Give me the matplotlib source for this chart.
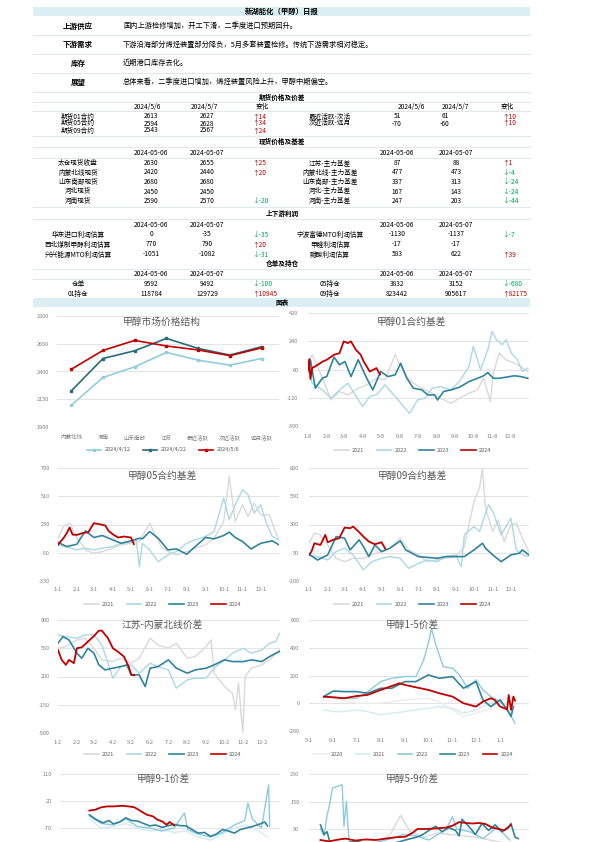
import matplotlib
matplotlib.use("Agg")
import matplotlib.pyplot as plt
import pandas as pd
from matplotlib.lines import Line2D

plt.rcParams['font.family'] = ['Noto Sans CJK SC', 'DejaVu Sans']
plt.rcParams['axes.unicode_minus'] = False

# ---------------------------------------------------------------
# 表格数据
# ---------------------------------------------------------------
report_title = "新湖能化（甲醇）日报"
view_labels = ["上游供应", "下游需求", "库存", "展望"]
view_texts = ["国内上游检修增加，开工下滑，二季度进口预期回升。",
              "下游沿海部分烯烃装置部分降负，5月多套装置检修。传统下游需求相对稳定。",
              "近期港口库存去化。",
              "总体来看，二季度进口增加，烯烃装置风险上升，甲醇中期偏空。"]

fut_names = ["期货01合约", "期货05合约", "期货09合约"]
fut_0506 = [2613, 2594, 2543]
fut_0507 = [2627, 2628, 2567]
spr_names = ["最近活跃-次活", "次近活跃-远月"]
spr_0506 = [51, -70]
spr_0507 = [61, -60]

spot_names = ["太仓现货收盘", "内蒙北线现货", "山东南部现货", "河北现货", "河南现货"]
spot_0506 = [2630, 2420, 2680, 2450, 2590]
spot_0507 = [2655, 2440, 2680, 2450, 2570]
basis_names = ["江苏-主力基差", "内蒙北线-主力基差", "山东南部-主力基差", "河北-主力基差", "河南-主力基差"]
basis_0506 = [87, 477, 337, 167, 247]
basis_0507 = [88, 473, 313, 143, 203]

prof_l_names = ["华东进口利润估算", "西北煤制甲醇利润估算", "兴兴能源MTO利润估算"]
prof_l_0506 = [0, 770, -1051]
prof_l_0507 = [-35, 790, -1082]
prof_r_names = ["宁波富德MTO利润估算", "甲醛利润估算", "醋酸利润估算"]
prof_r_0506 = [-1130, -17, 583]
prof_r_0507 = [-1137, -17, 622]

wr_l_names = ["仓单", "01持仓"]
wr_l_0506 = [9592, 118784]
wr_l_0507 = [9492, 129729]
wr_r_names = ["05持仓", "09持仓"]
wr_r_0506 = [3832, 823442]
wr_r_0507 = [3152, 905617]

# ---------------------------------------------------------------
# 图表数据
# ---------------------------------------------------------------
struct_cats = ["内蒙北线", "河南", "山东南部", "江苏", "最近活跃", "次近活跃", "远月活跃"]
struct_0412 = [2096, 2346, 2442, 2572, 2502, 2457, 2517]
struct_0422 = [2225, 2517, 2587, 2698, 2608, 2548, 2623]
struct_0506 = [2420, 2590, 2680, 2630, 2594, 2543, 2613]

# 01合约基差
b01_2021_d = ["01-08", "01-15", "02-01", "02-15", "03-01", "03-15", "04-01", "04-15", "05-01", "05-15",
              "06-01", "06-10", "06-20", "07-01", "07-15", "08-01", "08-15", "09-01", "09-15", "10-01",
              "10-15", "10-25", "11-05", "11-10", "11-20", "12-01", "12-15", "12-25", "01-06"]
b01_2021_v = [100, 154, 6, -134, -80, -102, -59, -38, 4, -5, 154, 79, 15, -27, -59, -91, -123, -155, -123, -91,
              -70, 6, -144, 37, 164, 122, 100, 79, 47]
b01_2022_d = ["01-08", "01-15", "02-01", "02-15", "03-01", "03-15", "03-25", "04-08", "04-20", "05-01",
              "05-15", "06-01", "06-15", "06-25", "07-08", "07-20", "08-01", "08-15", "09-01", "09-15",
              "10-01", "10-08", "10-20", "11-01", "11-08", "11-15", "11-25", "12-01", "12-10", "12-20",
              "12-28", "01-06"]
b01_2022_v = [60, -27, -70, -123, -70, -27, -91, -176, -112, -102, -38, -112, -176, -219, -134, -123, -59, -49,
              -70, -17, 79, 207, 58, 186, 303, 250, 218, 250, 164, 122, 47, 68]
b01_2023_d = ["01-08", "01-12", "01-20", "02-01", "02-08", "02-20", "03-01", "03-10", "03-20", "04-01",
              "04-15", "04-25", "05-08", "05-20", "06-01", "06-10", "06-20", "07-01", "07-15", "07-25",
              "08-05", "08-10", "08-20", "09-01", "09-15", "10-01", "10-15", "10-25", "11-01", "11-10",
              "11-20", "12-01", "12-15", "12-25", "01-06"]
b01_2023_v = [47, 122, -59, 6, 15, 139, 90, 111, 15, 122, 4, -70, 47, 15, 26, 100, 6, -59, -70, -102,
              -102, -134, -80, -70, -53, -17, 4, 20, 41, 4, 4, 11, 20, 15, 4]
b01_2024_d = ["01-08", "01-10", "01-12", "01-15", "01-20", "02-01", "02-08", "02-20", "03-01", "03-08",
              "03-15", "03-20", "03-28", "04-05", "04-10", "04-20", "05-01", "05-07"]
b01_2024_v = [60, 126, -1, 70, 80, 110, 122, 154, 164, 239, 228, 239, 186, 154, 111, 47, 69, 28]

# 05合约基差
b05_2021_d = ["01-01", "01-10", "01-20", "02-01", "02-10", "02-15", "03-01", "03-15", "04-01", "04-15",
              "05-01", "05-15", "06-01", "06-10", "06-20", "07-01", "07-15", "08-01", "08-15", "09-01",
              "09-15", "10-01", "10-10", "10-20", "11-01", "11-10", "11-20", "12-01", "12-15", "12-25", "12-31"]
b05_2021_v = [94, 210, 243, 94, 28, -22, -55, -38, -5, 28, 44, 68, 243, 127, 11, -38, -72, -38, -5, 28,
              94, 260, 707, 260, 426, 310, 442, 326, 326, 160, 78]
b05_2022_d = ["01-01", "01-15", "02-01", "02-15", "03-01", "03-15", "04-01", "04-15", "05-01", "05-10",
              "05-15", "05-20", "06-01", "06-15", "07-01", "07-15", "08-01", "08-15", "09-01", "09-15",
              "10-01", "10-10", "10-20", "11-01", "11-10", "11-20", "12-01", "12-10", "12-20", "12-31"]
b05_2022_v = [28, 11, -22, -5, -22, -5, 11, 44, 54, 78, -188, 44, -22, -138, -72, -38, 44, 78, 111, 160,
              492, 276, 426, 575, 525, 343, 426, 243, 111, 78]
b05_2023_d = ["01-01", "01-15", "02-01", "02-15", "02-20", "03-01", "03-15", "04-01", "04-15", "05-01",
              "05-15", "05-20", "06-01", "06-15", "07-01", "07-15", "08-01", "08-15", "09-01", "09-15",
              "10-01", "10-10", "10-20", "11-01", "11-15", "12-01", "12-20", "12-31"]
b05_2023_v = [54, 11, 34, 167, 144, 101, 121, 78, 44, 68, 94, 88, 160, 94, -22, -12, -65, 11, 101, 88,
              121, 154, 101, 61, -12, 44, 68, 28]
b05_2024_d = ["01-01", "01-05", "01-10", "01-15", "01-20", "01-25", "02-01", "02-10", "02-20", "03-01",
              "03-10", "03-20", "03-25", "04-01", "04-10", "04-20", "05-01", "05-06"]
b05_2024_v = [28, 60, 94, 140, 200, 130, 127, 144, 154, 243, 233, 220, 168, 134, 101, 111, 101, 36]

# 09合约基差
b09_2021_d = ["01-01", "01-10", "01-20", "02-01", "02-15", "03-01", "03-15", "04-01", "04-15", "05-01",
              "05-15", "06-01", "06-15", "07-01", "07-15", "08-01", "08-15", "09-01", "09-15", "10-01",
              "10-10", "10-15", "10-20", "11-01", "11-10", "11-20", "12-01", "12-10", "12-20", "12-31"]
b09_2021_v = [134, 223, 208, 119, 1, -29, 1, 1, 31, 60, 90, 179, 75, 31, -29, -14, 1, 16, 105, 504,
              622, 800, 445, 238, 341, 149, 297, 312, 179, 60]
b09_2022_d = ["01-01", "01-15", "02-01", "02-15", "03-01", "03-15", "04-01", "04-15", "05-01", "05-15",
              "06-01", "06-15", "07-01", "07-15", "08-01", "08-15", "09-01", "09-10", "09-15", "10-01",
              "10-10", "10-25", "11-01", "11-15", "12-01", "12-10", "12-20", "12-31"]
b09_2022_v = [31, 16, -14, 60, 90, 31, -102, -29, 1, 16, 1, -88, -44, -14, -29, 16, 31, -73, 208, 282,
              238, 475, 415, 208, 356, 75, 31, 16]
b09_2023_d = ["01-01", "01-15", "02-01", "02-15", "03-01", "03-10", "03-25", "04-01", "04-10", "04-20",
              "05-01", "05-15", "06-01", "06-10", "07-01", "08-01", "08-15", "09-01", "09-15", "10-01",
              "10-15", "10-20", "11-01", "11-15", "12-01", "12-15", "12-20", "12-31"]
b09_2023_v = [37, -14, 31, 193, 179, 75, 164, 105, 16, 119, 60, 90, 155, 75, 16, 1, 16, 16, 16, 75,
              134, 90, 31, -29, 31, 46, 75, 31]
b09_2024_d = ["01-01", "01-05", "01-10", "01-20", "01-28", "02-01", "02-10", "02-20", "03-01", "03-10",
              "03-15", "03-25", "04-01", "04-10", "04-20", "05-01", "05-07"]
b09_2024_v = [31, 60, 134, 119, 208, 143, 164, 179, 273, 267, 282, 232, 193, 149, 125, 143, 88]

# 江苏-内蒙北线价差
js_2021_d = ["01-02", "01-15", "02-02", "02-15", "03-02", "03-15", "04-02", "04-15", "05-02", "05-15",
             "06-02", "06-15", "07-02", "07-15", "08-02", "08-15", "09-02", "09-10", "09-15", "10-02",
             "10-15", "10-20", "10-25", "11-01", "11-05", "11-15", "12-02", "12-15", "12-31"]
js_2021_v = [550, 571, 653, 674, 550, 406, 385, 426, 365, 426, 674, 591, 550, 612, 426, 447, 571, 653, 241, 76,
             -6, -212, 118, -500, 200, 303, 344, 406, 529]
js_2022_d = ["01-02", "01-15", "02-02", "02-15", "03-02", "03-15", "04-02", "04-15", "05-02", "05-15",
             "06-02", "06-15", "07-02", "07-15", "08-02", "08-15", "09-02", "09-15", "10-02", "10-15",
             "11-02", "11-15", "12-02", "12-15", "12-25", "12-31"]
js_2022_v = [715, 694, 674, 715, 715, 591, 179, 323, 344, 241, 365, 323, 282, 56, 159, 179, 179, 303, 406, 488,
             550, 488, 529, 612, 632, 735]
js_2023_d = ["01-02", "01-10", "01-20", "02-02", "02-10", "02-20", "03-02", "03-10", "03-20", "04-02",
             "04-15", "04-25", "05-02", "05-15", "05-25", "06-02", "06-15", "07-02", "07-15", "08-02",
             "08-15", "09-02", "09-15", "10-02", "10-15", "11-02", "11-15", "12-02", "12-15", "12-25", "12-31"]
js_2023_v = [612, 694, 653, 488, 426, 550, 488, 344, 282, 303, 323, 344, 221, 221, 76, 303, 323, 406, 303, 241,
             282, 303, 344, 406, 385, 385, 406, 385, 447, 488, 509]
js_2024_d = ["01-02", "01-08", "01-15", "01-20", "01-28", "02-02", "02-10", "02-20", "03-01", "03-10",
             "03-15", "03-25", "04-02", "04-10", "04-20", "04-28", "05-02", "05-07"]
js_2024_v = [529, 406, 344, 406, 365, 550, 562, 632, 694, 768, 768, 674, 550, 509, 447, 323, 221, 215]

# 1-5价差
s15_2020_d = ["05-20", "06-01", "07-01", "08-01", "09-01", "10-01", "10-15", "11-01", "11-15", "12-01",
              "12-15", "01-01", "01-10"]
s15_2020_v = [96, 36, 0, 0, 24, 36, 12, -48, -96, -72, -48, 12, 0]
s15_2021_d = ["05-20", "06-01", "06-15", "07-01", "07-15", "08-01", "08-15", "09-01", "09-15", "10-01",
              "10-15", "11-01", "11-15", "12-01", "12-15", "01-01", "01-10", "01-20"]
s15_2021_v = [-48, -60, -60, -48, -60, -84, -72, -60, -48, -36, -24, -36, -72, -48, -12, 24, 36, 48]
s15_2022_d = ["05-20", "06-01", "06-15", "07-01", "07-15", "08-01", "08-15", "09-01", "09-15", "09-25",
              "10-01", "10-05", "10-10", "10-20", "11-01", "11-10", "11-20", "12-01", "12-10", "12-20",
              "01-01", "01-10", "01-20"]
s15_2022_v = [43, 43, 36, 36, 84, 156, 180, 192, 192, 312, 432, 540, 432, 264, 252, 204, 108, 168, 96, 48,
              12, -36, -144]
s15_2023_d = ["05-20", "06-01", "06-15", "07-01", "07-15", "08-01", "08-15", "09-01", "09-15", "10-01",
              "10-15", "11-01", "11-15", "12-01", "12-10", "12-20", "01-01", "01-10", "01-15", "01-18"]
s15_2023_v = [48, 88, 84, 84, 72, 108, 108, 156, 156, 204, 180, 192, 108, 156, 24, -24, 24, -48, -96, -24]
s15_2024_d = ["05-20", "06-01", "06-15", "07-01", "07-15", "08-01", "08-15", "08-25", "09-01", "09-15",
              "10-01", "10-15", "11-01", "11-15", "12-01", "12-10", "12-20", "12-25", "01-01", "01-10",
              "01-12", "01-15", "01-18", "01-20"]
s15_2024_v = [48, 43, 36, 52, 60, 96, 124, 144, 132, 115, 96, 72, 48, 0, -24, 12, 36, 24, -24, -44,
              60, -48, 48, 19]

# 9-1价差
s91_2021_d = ["01-15", "02-06", "02-28", "03-23", "04-14", "05-06", "05-29", "06-20", "07-12", "08-03",
              "08-26", "09-17", "10-09", "10-31", "11-23", "12-09"]
s91_2021_v = [-40, -70, -65, -55, -70, -80, -75, -85, -80, -100, -110, -90, -70, -60, -80, -100]
s91_2022_d = ["01-15", "02-06", "02-28", "03-23", "04-14", "05-06", "05-29", "06-20", "07-09", "07-15",
              "08-03", "08-26", "09-17", "10-09", "10-28", "11-03", "11-11", "11-28", "12-11", "12-13"]
s91_2022_v = [-30, -55, -60, -40, -65, -70, -80, -70, -20, -75, -90, -100, -85, -60, -45, 13, -40, -70, 74, -65]
s91_2023_d = ["01-15", "01-26", "02-09", "02-20", "02-28", "03-12", "03-23", "04-03", "04-14", "04-25",
              "05-06", "05-17", "05-29", "06-09", "06-20", "07-01", "07-12", "07-23", "08-03", "08-15",
              "08-26", "09-06", "09-17", "09-28", "10-09", "10-20", "10-31", "11-11", "11-23", "12-04", "12-09"]
s91_2023_v = [-26, -40, -53, -45, -56, -50, -36, -45, -47, -55, -63, -60, -68, -62, -58, -62, -63, -75, -87, -85,
              -98, -90, -75, -80, -87, -75, -70, -65, -58, -50, -63]
s91_2024_d = ["01-15", "01-26", "02-06", "02-17", "02-28", "03-17", "03-28", "04-08", "04-20", "05-01",
              "05-12", "05-20", "05-29", "06-06", "06-12", "06-20"]
s91_2024_v = [-12, -9, -1, 2, 2, 4, 2, -1, -14, -26, -31, -42, -48, -59, -50, -61]

# 5-9价差
s59_2021_d = ["04-24", "05-16", "06-02", "06-07", "06-18", "07-10", "08-01", "08-23", "09-14", "10-06",
              "10-28", "11-19"]
s59_2021_v = [0, 30, 100, 80, 40, 20, 35, 30, 25, 20, 10, 0]
s59_2022_d = ["01-20", "01-26", "01-31", "02-03", "02-09", "02-17", "02-25", "02-28", "03-04", "03-08",
              "03-14", "04-22", "05-25", "06-05", "06-27", "07-19", "08-10", "08-18", "08-27", "09-03",
              "09-25", "10-17", "11-08", "11-19", "11-30"]
s59_2022_v = [50, 25, 100, 126, 199, 205, 211, 60, 150, 20, -20, 0, 20, 30, 25, 10, 40, 55, 95, 50,
              40, 15, 55, 35, 10]
s59_2023_d = ["01-20", "01-26", "01-31", "02-06", "02-20", "03-19", "04-22", "05-25", "06-10", "06-28",
              "07-09", "07-19", "07-30", "08-10", "08-21", "09-01", "09-07", "09-12", "09-23", "10-04",
              "10-15", "10-26", "11-06", "11-17", "11-28", "12-02", "12-09", "12-14"]
s59_2023_v = [65, 30, 40, -10, -5, 5, -10, 0, 10, 20, 30, 45, 60, 40, 55, 45, 25, 85, 60, 30,
              70, 45, 65, 40, 55, 70, 20, 15]
s59_2024_d = ["01-20", "02-03", "02-20", "03-03", "03-19", "04-05", "04-22", "05-08", "05-25", "06-10",
              "06-21", "06-30", "07-14", "07-30", "08-16", "08-27", "09-07", "09-18", "09-29", "10-10",
              "10-21", "11-01", "11-12", "11-21", "12-02"]
s59_2024_v = [10, 5, 12, 15, 8, 12, 10, 15, 20, 22, 35, 50, 50, 52, 55, 62, 75, 72, 70, 72,
              68, 55, 50, 45, 65]

year_labels = ["2021", "2022", "2023", "2024"]
year_labels_15 = ["2020", "2021", "2022", "2023", "2024"]

# ---------------------------------------------------------------
# 画布
# ---------------------------------------------------------------
W, H = 595, 842
fig = plt.figure(figsize=(5.95, 8.42), dpi=100)

C21, C22, C23, C24 = '#d9d9d9', '#acd8e6', '#31849b', '#c00000'
RED, GREEN = '#c00000', '#00a65a'
FS = 4.8   # 表格字号


def fx(x):
    return x / W


def fy(y):
    return 1 - y / H


def txt(x, y, s, ha='center', size=FS, color='black', weight='normal'):
    fig.text(fx(x), fy(y), s, ha=ha, va='center', fontsize=size, color=color, fontweight=weight)


def hline(y, color='#d6e6ec', lw=0.6):
    fig.add_artist(Line2D([fx(33), fx(530)], [fy(y), fy(y)], color=color, lw=lw))


def band(y0, y1):
    fig.add_artist(plt.Rectangle((fx(33), fy(y1)), fx(530) - fx(33), fy(y0) - fy(y1),
                                 facecolor='#daeef3', edgecolor='none'))


def chg(x, y, a, b):
    d = b - a
    if d > 0:
        txt(x, y, "↑" + str(d), ha='left', color=RED)
    elif d < 0:
        txt(x, y, "↓" + str(d), ha='left', color=GREEN)


def days(md, start="01-01"):
    base = pd.Timestamp("2021-" + start)
    out = []
    for s in md:
        t = pd.Timestamp("2021-" + s)
        if t < base:
            t = pd.Timestamp("2022-" + s)
        out.append((t - base).days)
    return out


# ---------------------------------------------------------------
# 表格部分
# ---------------------------------------------------------------
band(7, 16)
txt(282, 11.5, report_title, weight='bold', size=5.3)
rows_y = [26, 44.5, 63, 82]
for lab, t, y in zip(view_labels, view_texts, rows_y):
    txt(78, y, lab, weight='bold', size=5.4)
    txt(123, y, t, ha='left', size=5.2)
for y in [35, 54, 72.5, 91.5]:
    hline(y)

# 期货价格及价差
txt(282, 97, "期货价格及价差", weight='bold')
hline(101.5)
txt(147, 107, "2024/5/6")
txt(205, 107, "2024/5/7")
txt(262, 107, "变化")
txt(411, 107, "2024/5/6")
txt(456, 107, "2024/5/7")
txt(507, 107, "变化")
hline(111)
fy_rows = [116.5, 123.5, 130.5]
for i, y in enumerate(fy_rows):
    txt(78, y, fut_names[i])
    txt(151, y, str(fut_0506[i]))
    txt(207, y, str(fut_0507[i]))
    chg(252, y, fut_0506[i], fut_0507[i])
for i in range(len(spr_names)):
    y = fy_rows[i]
    txt(330, y, spr_names[i])
    txt(397, y, str(spr_0506[i]))
    txt(445, y, str(spr_0507[i]))
    chg(502, y, spr_0506[i], spr_0507[i])

# 现货价格及基差
hline(136)
txt(282, 141.5, "现货价格及基差", weight='bold')
hline(147)
txt(151, 153, "2024-05-06")
txt(207, 153, "2024-05-07")
txt(397, 153, "2024-05-06")
txt(456, 153, "2024-05-07")
hline(157.5)
sp_rows = [163, 172.5, 182, 191.5, 201]
for i, y in enumerate(sp_rows):
    txt(78, y, spot_names[i])
    txt(151, y, str(spot_0506[i]))
    txt(207, y, str(spot_0507[i]))
    chg(252, y, spot_0506[i], spot_0507[i])
    txt(330, y, basis_names[i])
    txt(397, y, str(basis_0506[i]))
    txt(456, y, str(basis_0507[i]))
    chg(502, y, basis_0506[i], basis_0507[i])

# 上下游利润
hline(206.5)
txt(282, 213, "上下游利润", weight='bold')
hline(218.5)
txt(151, 225, "2024-05-06")
txt(207, 225, "2024-05-07")
txt(397, 225, "2024-05-06")
txt(456, 225, "2024-05-07")
pr_rows = [234.5, 244.5, 254.5]
for i, y in enumerate(pr_rows):
    txt(78, y, prof_l_names[i])
    txt(151, y, str(prof_l_0506[i]))
    txt(207, y, str(prof_l_0507[i]))
    chg(252, y, prof_l_0506[i], prof_l_0507[i])
    txt(330, y, prof_r_names[i])
    txt(397, y, str(prof_r_0506[i]))
    txt(456, y, str(prof_r_0507[i]))
    chg(502, y, prof_r_0506[i], prof_r_0507[i])

# 仓单及持仓
txt(282, 263.5, "仓单及持仓", weight='bold')
hline(268.5)
txt(151, 274, "2024-05-06")
txt(207, 274, "2024-05-07")
txt(397, 274, "2024-05-06")
txt(456, 274, "2024-05-07")
hline(278.5)
wr_rows = [284, 294]
for i, y in enumerate(wr_rows):
    txt(78, y, wr_l_names[i])
    txt(151, y, str(wr_l_0506[i]))
    txt(207, y, str(wr_l_0507[i]))
    chg(252, y, wr_l_0506[i], wr_l_0507[i])
    txt(330, y, wr_r_names[i])
    txt(397, y, str(wr_r_0506[i]))
    txt(456, y, str(wr_r_0507[i]))
    chg(502, y, wr_r_0506[i], wr_r_0507[i])

band(297.5, 307)
txt(282, 302.3, "图表", weight='bold')


# ---------------------------------------------------------------
# 图表部分
# ---------------------------------------------------------------
def make_ax(x0, x1, ytop, ybot, ylim, yticks, ypad=6):
    ax = fig.add_axes([fx(x0), fy(ybot), fx(x1) - fx(x0), fy(ytop) - fy(ybot)])
    for s in ax.spines.values():
        s.set_visible(False)
    ax.set_ylim(*ylim)
    ax.set_yticks(yticks)
    ax.grid(axis='y', color='#d9d9d9', lw=0.5)
    ax.set_axisbelow(True)
    ax.tick_params(axis='y', length=0, labelsize=4, colors='#7f7f7f', pad=ypad)
    ax.tick_params(axis='x', length=0, labelsize=4, colors='#7f7f7f')
    return ax


def chart_title(x, y, s):
    fig.text(fx(x), fy(y), s, ha='center', va='center', fontsize=7, color='#595959')


def legend(cx, y, colors, labels, lws):
    hs = [Line2D([], [], color=c, lw=w) for c, w in zip(colors, lws)]
    fig.legend(hs, labels, loc='center', bbox_to_anchor=(fx(cx), fy(y)), ncol=len(labels),
               frameon=False, fontsize=4, handlelength=2.6, columnspacing=2.2, handletextpad=0.6,
               labelcolor='#595959')


def month_ticks(ax, start, day, months):
    labels = [f"{m}-{day}" for m in months]
    ax.set_xticks(days([f"{m:02d}-{day:02d}" for m in months], start))
    ax.set_xticklabels(labels)


# 1 甲醇市场价格结构
ax = make_ax(57, 279, 316, 427, (1900, 2900), [1900, 2150, 2400, 2650, 2900])
xs = range(len(struct_cats))
ax.plot(xs, struct_0412, color='#92cddc', lw=1.2, marker='s', ms=2)
ax.plot(xs, struct_0422, color='#2b6a7c', lw=1.2, marker='s', ms=2)
ax.plot(xs, struct_0506, color=C24, lw=1.2, marker='s', ms=2)
ax.set_xlim(-0.45, 6.55)
ax.set_xticks(list(xs))
ax.set_xticklabels(struct_cats)
ax.tick_params(axis='x', pad=6)
chart_title(162, 322, "甲醇市场价格结构")
hs = [Line2D([], [], color=c, lw=1.2, marker='s', ms=2) for c in ['#92cddc', '#2b6a7c', C24]]
fig.legend(hs, ["2024/4/12", "2024/4/22", "2024/5/6"], loc='center', bbox_to_anchor=(fx(163), fy(450)),
           ncol=3, frameon=False, fontsize=4, handlelength=2.6, columnspacing=2.2, handletextpad=0.6,
           labelcolor='#595959')

# 2 甲醇01合约基差
ax = make_ax(308, 529, 313, 426, (-300, 420), [-300, -120, 60, 240, 420], ypad=7)
st = "01-08"
ax.plot(days(b01_2021_d, st), b01_2021_v, color=C21, lw=1.0)
ax.plot(days(b01_2022_d, st), b01_2022_v, color=C22, lw=1.0)
ax.plot(days(b01_2023_d, st), b01_2023_v, color=C23, lw=1.2)
ax.plot(days(b01_2024_d, st), b01_2024_v, color=C24, lw=1.3)
ax.set_xlim(0, 365)
month_ticks(ax, st, 8, range(1, 13))
ax.tick_params(axis='x', pad=6)
chart_title(412, 322, "甲醇01合约基差")
legend(413, 450, [C21, C22, C23, C24], year_labels, [1.2, 1.2, 1.2, 1.2])

# 3 甲醇05合约基差
ax = make_ax(58, 279, 468, 581, (-330, 790), [-330, -50, 230, 510, 790])
st = "01-01"
ax.plot(days(b05_2021_d, st), b05_2021_v, color=C21, lw=1.0)
ax.plot(days(b05_2022_d, st), b05_2022_v, color=C22, lw=1.0)
ax.plot(days(b05_2023_d, st), b05_2023_v, color=C23, lw=1.2)
ax.plot(days(b05_2024_d, st), b05_2024_v, color=C24, lw=1.3)
ax.set_xlim(0, 364)
month_ticks(ax, st, 1, range(1, 13))
ax.tick_params(axis='x', pad=4)
chart_title(162, 476, "甲醇05合约基差")
legend(163, 604, [C21, C22, C23, C24], year_labels, [1.2, 1.2, 1.2, 1.2])

# 4 甲醇09合约基差
ax = make_ax(309, 529, 468, 581, (-200, 800), [-200, 50, 300, 550, 800], ypad=7)
ax.plot(days(b09_2021_d, st), b09_2021_v, color=C21, lw=1.0)
ax.plot(days(b09_2022_d, st), b09_2022_v, color=C22, lw=1.0)
ax.plot(days(b09_2023_d, st), b09_2023_v, color=C23, lw=1.2)
ax.plot(days(b09_2024_d, st), b09_2024_v, color=C24, lw=1.3)
ax.set_xlim(0, 364)
month_ticks(ax, st, 1, range(1, 13))
ax.tick_params(axis='x', pad=4)
chart_title(412, 476, "甲醇09合约基差")
legend(413, 604, [C21, C22, C23, C24], year_labels, [1.2, 1.2, 1.2, 1.2])

# 5 江苏-内蒙北线价差
ax = make_ax(58, 280, 620, 733, (-500, 900), [-500, -150, 200, 550, 900])
st = "01-02"
ax.plot(days(js_2021_d, st), js_2021_v, color=C21, lw=1.0)
ax.plot(days(js_2022_d, st), js_2022_v, color=C22, lw=1.0)
ax.plot(days(js_2023_d, st), js_2023_v, color=C23, lw=1.2)
ax.plot(days(js_2024_d, st), js_2024_v, color=C24, lw=1.3)
ax.set_xlim(0, 364)
month_ticks(ax, st, 2, range(1, 13))
ax.tick_params(axis='x', pad=5)
chart_title(162, 625, "江苏-内蒙北线价差")
legend(163, 754, [C21, C22, C23, C24], year_labels, [1.2, 1.2, 1.2, 1.2])

# 6 甲醇1-5价差
ax = make_ax(309, 529, 620, 731, (-200, 600), [-200, 0, 200, 400, 600], ypad=7)
st = "05-01"
ax.plot(days(s15_2020_d, st), s15_2020_v, color='#ececec', lw=1.0)
ax.plot(days(s15_2021_d, st), s15_2021_v, color='#d3ebf2', lw=1.0)
ax.plot(days(s15_2022_d, st), s15_2022_v, color='#8ecbdc', lw=1.0)
ax.plot(days(s15_2023_d, st), s15_2023_v, color=C23, lw=1.2)
ax.plot(days(s15_2024_d, st), s15_2024_v, color=C24, lw=1.3)
ax.set_xlim(0, 282)
m15 = [5, 6, 7, 8, 9, 10, 11, 12, 1]
ax.set_xticks(days([f"{m:02d}-01" for m in m15], st))
ax.set_xticklabels([f"{m}-1" for m in m15])
ax.tick_params(axis='x', pad=5)
chart_title(412, 625, "甲醇1-5价差")
legend(413, 754, ['#ececec', '#d3ebf2', '#8ecbdc', C23, C24], year_labels_15, [1.2] * 5)

# 7 甲醇9-1价差 (页面底部截断)
ax = make_ax(60, 280, 774, 882, (-250, 110), [-70, 20, 110])
ax.grid(False)
for v in [-250, -160, -70, 20, 110]:
    ax.axhline(v, color='#d9d9d9', lw=0.5, zorder=0)
st = "01-01"
ax.plot(days(s91_2021_d, st), s91_2021_v, color='#d3ebf2', lw=1.0)
ax.plot(days(s91_2022_d, st), s91_2022_v, color='#8ecbdc', lw=1.0)
ax.plot(days(s91_2023_d, st), s91_2023_v, color=C23, lw=1.2)
ax.plot(days(s91_2024_d, st), s91_2024_v, color=C24, lw=1.3)
ax.set_xlim(-40, 365)
ax.set_xticks([])
chart_title(163, 779, "甲醇9-1价差")

# 8 甲醇5-9价差 (页面底部截断)
ax = make_ax(309, 529, 774, 884, (-150, 250), [50, 150, 250], ypad=7)
ax.grid(False)
for v in [-150, -50, 50, 150, 250]:
    ax.axhline(v, color='#d9d9d9', lw=0.5, zorder=0)
ax.plot(days(s59_2021_d, st), s59_2021_v, color=C21, lw=1.0)
ax.plot(days(s59_2022_d, st), s59_2022_v, color='#8ecbdc', lw=1.0)
ax.plot(days(s59_2023_d, st), s59_2023_v, color=C23, lw=1.2)
ax.plot(days(s59_2024_d, st), s59_2024_v, color=C24, lw=1.3)
ax.set_xlim(0, 365)
ax.set_xticks([])
chart_title(412, 779, "甲醇5-9价差")

fig.savefig("out.png", dpi=100)
